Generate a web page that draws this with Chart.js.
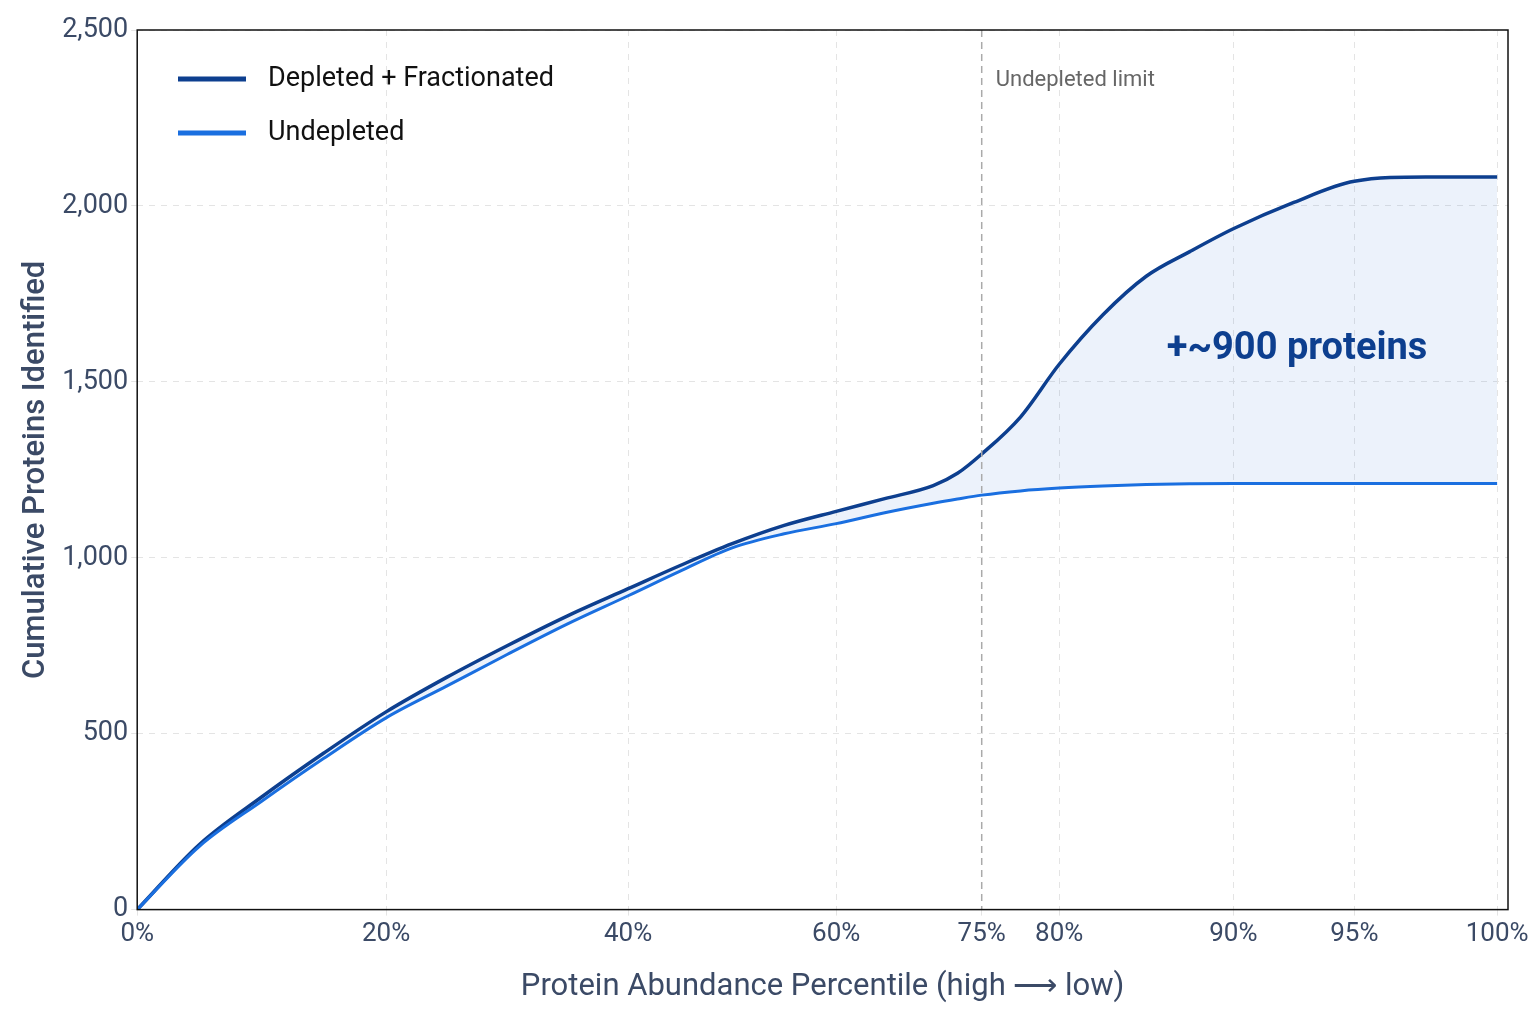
<!DOCTYPE html>
<html><head><meta charset="utf-8">
<script src="https://cdn.jsdelivr.net/npm/chart.js@4"></script>
<style>html,body{margin:0;background:#fff}#w{width:1536px;height:1024px}</style>
</head><body><div id="w"><canvas id="c"></canvas></div>
<script>
const percentiles=[0,5,10,15,20,25,30,35,40,45,50,55,60,65,70,72.5,75,77.5,80,82.5,85,87.5,90,92.5,95,97.5,100];
const depleted=[0,185,320,445,562,660,750,835,912,978,1040,1092,1132,1168,1205,1240,1295,1400,1550,1690,1800,1870,1935,2010,2070,2082,2082];
const undepleted=[0,180,308,430,545,635,725,812,892,962,1028,1068,1097,1128,1155,1167,1178,1190,1198,1204,1208,1210,1211,1211,1211,1211,1211];
const tickPercents=[0,20,40,60,75,80,90,95,100];
const tickFrac=[0,0.183,0.361,0.514,0.621,0.678,0.806,0.895,1];
function warp(p){for(let i=1;i<tickPercents.length;i++){if(p<=tickPercents[i]){const a=tickPercents[i-1],b=tickPercents[i];return tickFrac[i-1]+(p-a)/(b-a)*(tickFrac[i]-tickFrac[i-1]);}}return 1;}
const navy='#0d3f8f',blue='#1a6fe0',txt='#3b4a66';
const overlay={id:'ov',afterDraw(ch){const c=ch.ctx,x=ch.scales.x,y=ch.scales.y,a=ch.chartArea;c.save();
 const xl=x.getPixelForValue(warp(75));c.strokeStyle='#aaaaaa';c.lineWidth=1.5;c.setLineDash([7,5]);c.beginPath();c.moveTo(xl,a.top);c.lineTo(xl,a.bottom);c.stroke();c.setLineDash([]);
 c.font='22px Roboto';c.fillStyle='#666';c.textBaseline='middle';c.fillText('Undepleted limit',xl+14,80);
 c.font='bold 38px Roboto';c.fillStyle=navy;c.textAlign='center';c.fillText('+~900 proteins',1297,349);
 c.textAlign='left';c.font='27px Roboto';c.fillStyle='#111';c.lineWidth=5;
 [[navy,'Depleted + Fractionated',79],[blue,'Undepleted',133]].forEach(([col,t,yy])=>{c.strokeStyle=col;c.beginPath();c.moveTo(178,yy);c.lineTo(246,yy);c.stroke();c.fillText(t,268,yy);});
 c.strokeStyle='#111';c.lineWidth=1.5;c.strokeRect(a.left,a.top,a.right-a.left,a.bottom-a.top);c.restore();}};
new Chart(document.getElementById('c'),{type:'line',
 data:{datasets:[
  {data:percentiles.map((p,i)=>({x:warp(p),y:undepleted[i]})),borderColor:blue,borderWidth:3,pointRadius:0,cubicInterpolationMode:'monotone'},
  {data:percentiles.map((p,i)=>({x:warp(p),y:depleted[i]})),borderColor:navy,borderWidth:3.5,pointRadius:0,cubicInterpolationMode:'monotone',fill:{target:0,above:'rgba(40,110,210,0.09)',below:'rgba(0,0,0,0)'}}]},
 plugins:[overlay],
 options:{responsive:true,maintainAspectRatio:false,animation:false,
  layout:{padding:{top:30,right:28,left:14,bottom:14}},
  plugins:{legend:{display:false},tooltip:{enabled:false}},
  scales:{
   x:{type:'linear',min:0,max:1.008,
    afterBuildTicks(s){s.ticks=tickFrac.map(v=>({value:v}));},
    ticks:{autoSkip:false,maxRotation:0,color:txt,font:{family:'Roboto',size:26},callback:(v,i)=>tickPercents[i]+'%'},
    grid:{color:'#e4e4e4',tickLength:6},border:{display:false,dash:[6,6]},
    title:{display:true,text:'Protein Abundance Percentile (high ⟶ low)',color:txt,font:{family:'Roboto',size:31},padding:{top:16}}},
   y:{min:0,max:2500,ticks:{stepSize:500,color:txt,font:{family:'Roboto',size:27}},
    grid:{color:'#e4e4e4',tickLength:6},border:{display:false,dash:[6,6]},
    title:{display:true,text:'Cumulative Proteins Identified',color:txt,font:{family:'Roboto',size:31,weight:'500'}}}
  }}});
</script></body></html>
